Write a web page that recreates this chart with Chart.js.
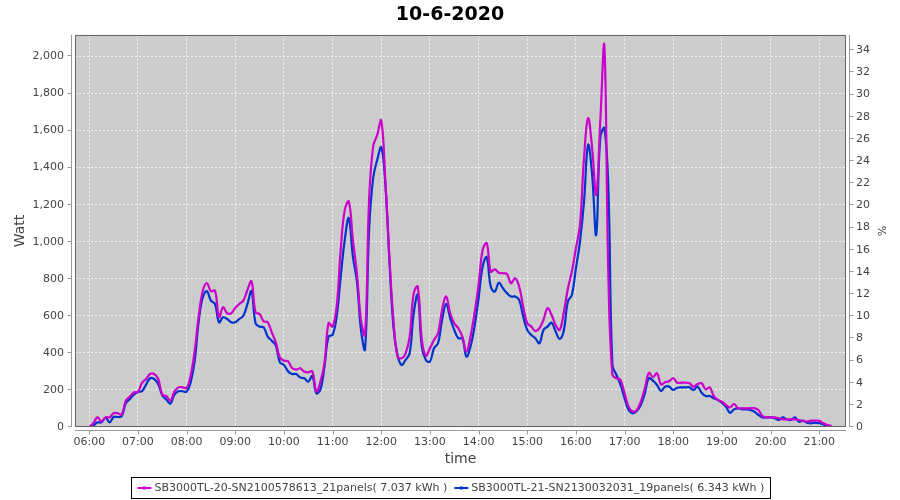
<!DOCTYPE html>
<html>
<head>
<meta charset="utf-8">
<script src="https://cdn.jsdelivr.net/npm/chart.js@4.4.0/dist/chart.umd.min.js"></script>
<style>
  html, body { margin: 0; padding: 0; background: #fff; }
</style>
</head>
<body>
<canvas id="chart-power" width="900" height="500"></canvas>
<script>
const chartTitle = '10-6-2020';

const times = [
  '06:00','06:05','06:10','06:15','06:20','06:25','06:30','06:35','06:40','06:45','06:50','06:55',
  '07:00','07:05','07:10','07:15','07:20','07:25','07:30','07:35','07:40','07:45','07:50','07:55',
  '08:00','08:05','08:10','08:15','08:20','08:25','08:30','08:35','08:40','08:45','08:50','08:55',
  '09:00','09:05','09:10','09:15','09:20','09:25','09:30','09:35','09:40','09:45','09:50','09:55',
  '10:00','10:05','10:10','10:15','10:20','10:25','10:30','10:35','10:40','10:45','10:50','10:55',
  '11:00','11:05','11:10','11:15','11:20','11:25','11:30','11:35','11:40','11:45','11:50','11:55',
  '12:00','12:05','12:10','12:15','12:20','12:25','12:30','12:35','12:40','12:45','12:50','12:55',
  '13:00','13:05','13:10','13:15','13:20','13:25','13:30','13:35','13:40','13:45','13:50','13:55',
  '14:00','14:05','14:10','14:15','14:20','14:25','14:30','14:35','14:40','14:45','14:50','14:55',
  '15:00','15:05','15:10','15:15','15:20','15:25','15:30','15:35','15:40','15:45','15:50','15:55',
  '16:00','16:05','16:10','16:15','16:20','16:25','16:30','16:35','16:40','16:45','16:50','16:55',
  '17:00','17:05','17:10','17:15','17:20','17:25','17:30','17:35','17:40','17:45','17:50','17:55',
  '18:00','18:05','18:10','18:15','18:20','18:25','18:30','18:35','18:40','18:45','18:50','18:55',
  '19:00','19:05','19:10','19:15','19:20','19:25','19:30','19:35','19:40','19:45','19:50','19:55',
  '20:00','20:05','20:10','20:15','20:20','20:25','20:30','20:35','20:40','20:45','20:50','20:55',
  '21:00','21:05','21:10','21:15'
];

// SB3000TL-20, 21 panels (W)
const sb20 = [
  0, 20, 52, 30, 52, 52, 74, 74, 67, 142, 164, 187,
  189, 238, 259, 286, 286, 259, 175, 166, 142, 191, 214, 214,
  211, 277, 412, 601, 736, 776, 733, 736, 592, 646, 614, 614,
  643, 664, 682, 740, 786, 619, 610, 571, 565, 511, 457, 376,
  358, 355, 318, 310, 317, 299, 295, 300, 191, 245, 344, 560,
  542, 650, 956, 1172, 1217, 1010, 830, 578, 497, 1226, 1514, 1577,
  1654, 1334, 920, 578, 380, 371, 398, 488, 722, 758, 470, 385,
  425, 470, 506, 632, 704, 614, 560, 533, 488, 407, 488, 614,
  767, 956, 992, 839, 851, 833, 830, 826, 776, 803, 758, 650,
  560, 542, 518, 533, 578, 641, 605, 551, 524, 618, 745, 839,
  965, 1091, 1451, 1667, 1505, 1253, 1645, 2063, 820, 281, 263, 254,
  182, 110, 83, 92, 137, 209, 292, 269, 290, 230, 242, 247,
  263, 239, 239, 239, 236, 218, 232, 236, 203, 214, 167, 146,
  137, 119, 106, 124, 101, 101, 101, 101, 101, 92, 59, 52,
  52, 52, 47, 41, 41, 41, 41, 38, 32, 29, 34, 34,
  34, 20, 11, 5
];

// SB3000TL-21, 19 panels (W)
const sb21 = [
  0, 7, 25, 25, 50, 25, 54, 54, 58, 128, 151, 175,
  189, 193, 229, 263, 259, 232, 171, 148, 126, 175, 193, 193,
  191, 241, 358, 574, 700, 733, 682, 664, 565, 592, 583, 565,
  565, 583, 601, 664, 733, 560, 542, 538, 488, 466, 439, 349,
  335, 301, 286, 286, 268, 263, 245, 275, 182, 203, 326, 488,
  497, 596, 812, 1010, 1127, 920, 785, 524, 420, 1064, 1343, 1442,
  1509, 1316, 902, 542, 389, 335, 362, 398, 614, 713, 434, 362,
  353, 425, 452, 578, 664, 587, 524, 479, 479, 380, 434, 542,
  695, 866, 916, 758, 731, 779, 749, 722, 704, 704, 686, 596,
  524, 497, 479, 452, 524, 542, 563, 515, 476, 520, 677, 713,
  857, 1001, 1217, 1523, 1361, 1037, 1559, 1613, 1289, 335, 281, 227,
  155, 92, 74, 86, 119, 182, 263, 250, 227, 195, 218, 218,
  200, 212, 214, 214, 214, 200, 218, 185, 167, 167, 155, 146,
  131, 110, 77, 95, 101, 95, 95, 92, 83, 65, 52, 52,
  52, 47, 38, 52, 41, 38, 52, 29, 34, 23, 20, 23,
  20, 14, 5, 0
];

const seriesLabels = [
  'SB3000TL-20-SN2100578613_21panels( 7.037 kWh )',
  'SB3000TL-21-SN2130032031_19panels( 6.343 kWh )'
];
const seriesColors = ['#cc00cc', '#0034cc'];

const toMinutes = t => { const [h, m] = t.split(':'); return +h * 60 + +m; };
const pad2 = n => String(n).padStart(2, '0');
const points = vals => times.map((t, i) => ({ x: toMinutes(t), y: vals[i] }));

Chart.defaults.font.family = '"DejaVu Sans", sans-serif';
Chart.defaults.font.size = 11;
Chart.defaults.color = '#444';

// plot background, border, offset axis lines, boxed legend
const frame = {
  id: 'frame',
  beforeDraw(chart) {
    const { ctx, chartArea: a } = chart;
    ctx.save();
    ctx.fillStyle = '#fff';
    ctx.fillRect(0, 0, chart.width, chart.height);
    ctx.fillStyle = '#cccccc';
    ctx.fillRect(a.left, a.top, a.right - a.left, a.bottom - a.top);
    ctx.restore();
  },
  afterDraw(chart) {
    const { ctx, chartArea: a, scales } = chart;
    ctx.save();
    ctx.lineWidth = 1;
    ctx.strokeStyle = '#666';
    ctx.strokeRect(Math.round(a.left) + 0.5, Math.round(a.top) + 0.5,
      Math.round(a.right - a.left) - 1, Math.round(a.bottom - a.top) - 1);

    ctx.strokeStyle = '#999';
    ctx.beginPath();
    const lx = Math.round(a.left) - 3.5;
    ctx.moveTo(lx, a.top); ctx.lineTo(lx, a.bottom);
    scales.y.ticks.forEach(t => {
      const p = Math.round(scales.y.getPixelForValue(t.value)) - 0.5;
      ctx.moveTo(lx - 4, p); ctx.lineTo(lx, p);
    });
    const rx = Math.round(a.right) + 3.5;
    ctx.moveTo(rx, a.top); ctx.lineTo(rx, a.bottom);
    scales.y1.ticks.forEach(t => {
      const p = Math.round(scales.y1.getPixelForValue(t.value)) - 0.5;
      ctx.moveTo(rx, p); ctx.lineTo(rx + 4, p);
    });
    const by = Math.round(a.bottom) + 3.5;
    ctx.moveTo(a.left, by); ctx.lineTo(a.right, by);
    scales.x.ticks.forEach(t => {
      const p = Math.round(scales.x.getPixelForValue(t.value)) + 0.5;
      ctx.moveTo(p, by); ctx.lineTo(p, by + 4);
    });
    ctx.stroke();

    // legend
    ctx.font = '11px "DejaVu Sans"';
    ctx.textBaseline = 'middle';
    const sw = 14, gap = 3, sep = 7, padX = 6;
    const items = chart.data.datasets.map(ds => ({
      label: ds.label, color: ds.borderColor, w: ctx.measureText(ds.label).width
    }));
    const total = items.reduce((s, it) => s + sw + gap + it.w, 0) + sep * (items.length - 1) + padX * 2;
    let x = Math.round(450 - total / 2) + 0.5;
    const top = 477.5, h = 21, cy = top + h / 2;
    ctx.strokeStyle = '#000';
    ctx.strokeRect(x, top, Math.round(total), h);
    x += padX;
    items.forEach(it => {
      ctx.strokeStyle = it.color;
      ctx.lineWidth = 2;
      ctx.beginPath();
      ctx.moveTo(x, cy); ctx.lineTo(x + sw, cy);
      ctx.stroke();
      ctx.fillStyle = it.color;
      ctx.fillRect(x + sw / 2 - 1.5, cy - 1.5, 3, 3);
      ctx.fillStyle = '#444';
      ctx.fillText(it.label, x + sw + gap, cy);
      x += sw + gap + it.w + sep;
    });
    ctx.restore();
  }
};

new Chart(document.getElementById('chart-power'), {
  type: 'line',
  data: {
    datasets: [
      { label: seriesLabels[0], data: points(sb20), borderColor: seriesColors[0], backgroundColor: seriesColors[0] },
      { label: seriesLabels[1], data: points(sb21), borderColor: seriesColors[1], backgroundColor: seriesColors[1] }
    ]
  },
  options: {
    responsive: false,
    animation: false,
    layout: { padding: { left: 0, right: 0, top: 0, bottom: 30 } },
    elements: {
      line: { borderWidth: 2.2, tension: 0.4 },
      point: { radius: 1, borderWidth: 0, pointStyle: 'rect' }
    },
    plugins: {
      legend: { display: false },
      tooltip: { enabled: false },
      title: {
        display: true,
        text: chartTitle,
        color: '#000',
        font: { size: 19, weight: 'bold' },
        padding: { top: 4, bottom: 8 }
      }
    },
    scales: {
      x: {
        type: 'linear',
        min: 342.4,
        max: 1293,
        afterFit: s => { s.height = 43; },
        ticks: {
          stepSize: 60,
          includeBounds: false,
          maxTicksLimit: 30,
          autoSkip: false,
          maxRotation: 0,
          padding: 1,
          callback: v => pad2(Math.floor(v / 60)) + ':' + pad2(v % 60)
        },
        grid: { color: '#f2f2f2', tickLength: 8, tickColor: 'rgba(0,0,0,0)' },
        border: { display: false, dash: [2, 2] },
        title: { display: true, text: 'time', font: { size: 14 }, padding: { top: 0, bottom: 2 } }
      },
      y: {
        position: 'left',
        min: 0,
        max: 2117,
        afterFit: s => { s.width = 75; },
        ticks: {
          stepSize: 200,
          includeBounds: false,
          padding: 3,
          callback: v => v.toLocaleString('en-US')
        },
        grid: { color: '#f2f2f2', tickLength: 8, tickColor: 'rgba(0,0,0,0)' },
        border: { display: false, dash: [2, 2] },
        title: { display: true, text: 'Watt', font: { size: 14 }, padding: { top: 12, bottom: 0 } }
      },
      y1: {
        position: 'right',
        min: 0,
        max: 35.4,
        afterFit: s => { s.width = 54; },
        ticks: { stepSize: 2, includeBounds: false, maxTicksLimit: 40, padding: 2 },
        grid: { drawOnChartArea: false, tickLength: 8, tickColor: 'rgba(0,0,0,0)' },
        border: { display: false },
        title: { display: true, text: '%', font: { size: 11 }, padding: { top: 13, bottom: 0 } }
      }
    }
  },
  plugins: [frame]
});
</script>
</body>
</html>
